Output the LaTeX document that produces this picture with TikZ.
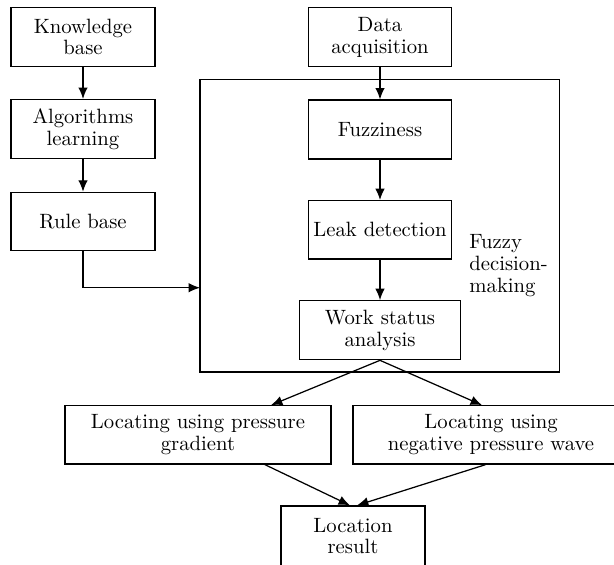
\documentclass[tikz,border=0pt]{standalone}
\usetikzlibrary{arrows.meta,calc}
\begin{document}
\begin{tikzpicture}[x=0.4831pt,y=-0.4831pt,
  box/.style 2 args={draw, line width=0.6pt, inner sep=0pt, align=center,
    minimum width=#1*0.4831pt, minimum height=#2*0.4831pt,
    font=\fontsize{10}{10.5}\selectfont},
  arr/.style={-{Latex[length=5.5pt,width=4.6pt]}, line width=0.6pt},
  lbl/.style={align=left, inner sep=0pt, anchor=west, font=\fontsize{10}{10.5}\selectfont}]
\clip (0,0) rectangle (614,564);
\useasboundingbox (0,0) rectangle (614,564);
% big frame
\node[box={359.3}{292.7}] (fdm) at (379.65,225.65) {};
\node[lbl] (fdmlabel) at (469,265.5) {Fuzzy\\decision-\\making};
% left column
\node[box={144}{59}] (kb) at (83,37) {Knowledge\\base};
\node[box={144}{59}] (al) at (83,129) {Algorithms\\learning};
\node[box={144}{58}] (rb) at (83,221.3) {Rule base};
% right column
\node[box={143.6}{59}] (da) at (380,37.3) {Data\\acquisition};
\node[box={143.6}{59}] (fz) at (380,129.5) {Fuzziness};
\node[box={143.6}{58.3}] (ld) at (380,229.8) {Leak detection};
\node[box={161.7}{59}] (ws) at (380,330.2) {Work status\\analysis};
% locating
\node[box={266}{58.3}] (ll) at (198,434.9) {Locating using pressure\\gradient};
\node[box={276}{58.3}] (rl) at (491,434.9) {Locating using\\negative pressure wave};
\node[box={144}{60}] (lr) at (353,536) {Location\\result};
\coordinate (rbin) at (200,287.7);
% connectors
\draw[arr] (kb.south) -- (al.north);
\draw[arr] (al.south) -- (rb.north);
\draw[arr] (rb.south) |- (rbin);
\draw[arr] (da.south) -- (fz.north);
\draw[arr] (fz.south) -- (ld.north);
\draw[arr] (ld.south) -- (ws.north);
\draw[arr] (ws.south) -- ($(ll.north)+(73,0)$);
\draw[arr] (ws.south) -- ($(rl.north)+(-9,0)$);
\draw[arr] ($(ll.south)+(67,0)$) -- ($(lr.north)+(-3,0)$);
\draw[arr] ($(rl.south)+(-5.5,0)$) -- ($(lr.north)+(4,0)$);
\end{tikzpicture}
\end{document}
